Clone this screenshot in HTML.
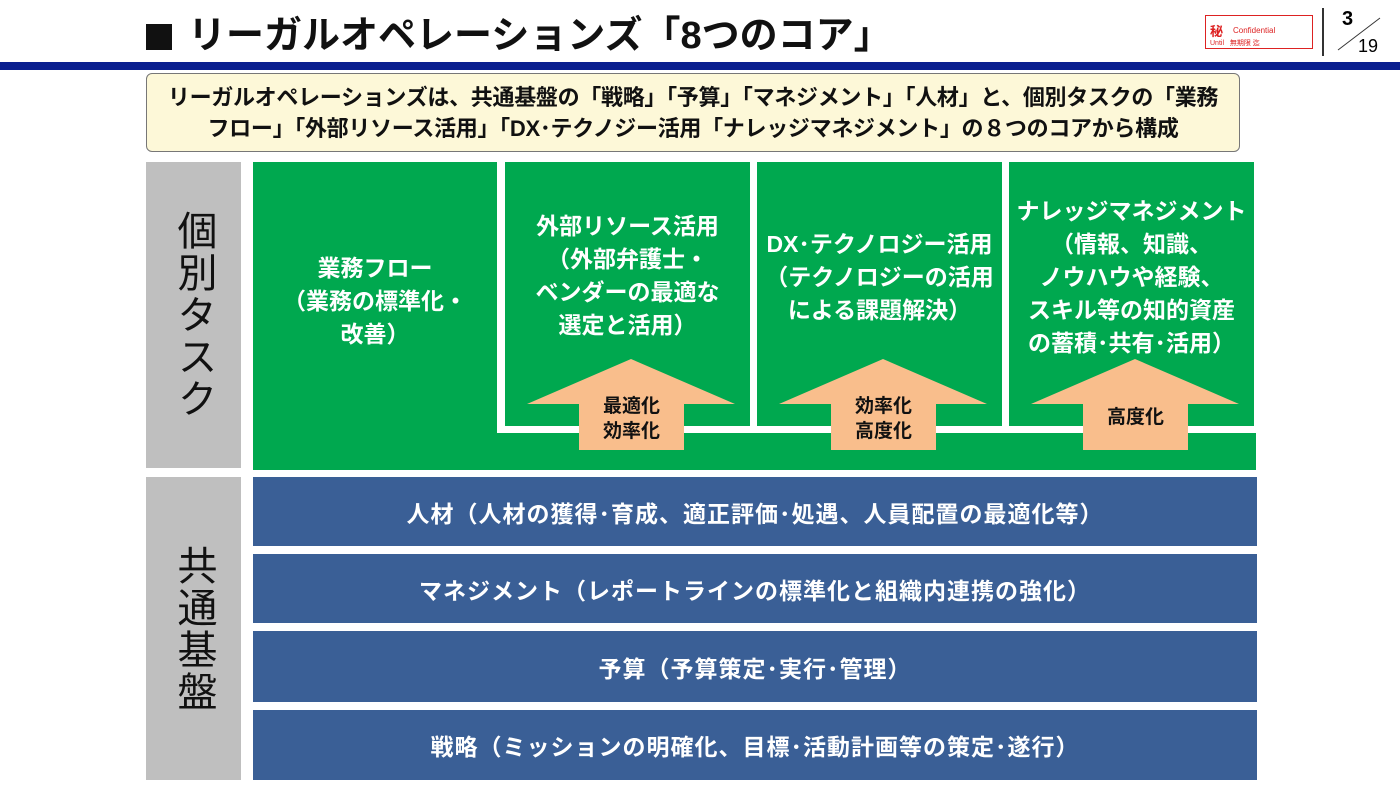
<!DOCTYPE html>
<html><head><meta charset="utf-8"><style>
*{margin:0;padding:0;box-sizing:border-box}
body{width:1400px;height:788px;background:#fff;position:relative;overflow:hidden;font-family:"Liberation Sans","Noto Sans CJK JP",sans-serif}
.a{position:absolute}
.g{background:#00a84f}
.w{color:#fff;font-weight:bold;text-align:center;font-size:23px;line-height:33px;white-space:nowrap}
.side{background:#bfbfbf;display:flex;align-items:center;justify-content:center;writing-mode:vertical-rl;font-size:40px;color:#111;letter-spacing:2px}
.row{background:#3a5f96;color:#fff;font-weight:bold;font-size:23px;letter-spacing:1px;display:flex;align-items:center;justify-content:center;left:253px;width:1004px}
.lbl{font-weight:bold;font-size:19px;line-height:25px;color:#111;text-align:center}
</style></head><body>
<div class="a" style="left:146px;top:24px;width:26px;height:26px;background:#111"></div>
<div class="a" style="left:188px;top:8px;font-size:38px;font-weight:bold;color:#111;line-height:56px;white-space:nowrap">リーガルオペレーションズ「8つのコア」</div>
<div class="a" style="left:1205px;top:15px;width:108px;height:34px;border:1px solid #d22"></div>
<div class="a" style="left:1210px;top:21px;color:#d22;font-size:13px;font-weight:bold">秘</div>
<div class="a" style="left:1233px;top:26px;color:#d22;font-size:8px">Confidential</div>
<div class="a" style="left:1210px;top:38px;color:#d22;font-size:7px">Until &nbsp;&nbsp;無期限 迄</div>
<div class="a" style="left:1322px;top:8px;width:2px;height:48px;background:#333"></div>
<div class="a" style="left:1342px;top:8px;font-size:20px;font-weight:bold">3</div>
<div class="a" style="left:1358px;top:36px;font-size:18px">19</div>
<svg class="a" style="left:1330px;top:14px" width="70" height="40"><line x1="8" y1="36" x2="50" y2="4" stroke="#333" stroke-width="1"/></svg>
<div class="a" style="left:0;top:62px;width:1400px;height:8px;background:#0a1f8f"></div>
<div class="a" style="left:146px;top:73px;width:1094px;height:79px;background:#fdf8d8;border:1px solid #777;border-radius:6px;font-weight:bold;font-size:22px;letter-spacing:-0.3px;line-height:31px;text-align:center;padding-top:8px;color:#111">リーガルオペレーションズは、共通基盤の「戦略」「予算」「マネジメント」「人材」と、個別タスクの「業務<br>フロー」「外部リソース活用」「DX･テクノジー活用「ナレッジマネジメント」の８つのコアから構成</div>

<div class="a side" style="left:146px;top:162px;width:95px;height:306px">個別タスク</div>
<div class="a side" style="left:146px;top:477px;width:95px;height:303px">共通基盤</div>

<div class="a g" style="left:253px;top:162px;width:1003px;height:308px"></div>
<div class="a" style="left:497px;top:162px;width:8px;height:271px;background:#fff"></div>
<div class="a" style="left:750px;top:162px;width:7px;height:264px;background:#fff"></div>
<div class="a" style="left:1002px;top:162px;width:7px;height:264px;background:#fff"></div>
<div class="a" style="left:1254px;top:162px;width:2px;height:264px;background:#fff"></div>
<div class="a" style="left:497px;top:426px;width:759px;height:7px;background:#fff"></div>

<div class="a w" style="left:253px;top:252px;width:244px">業務フロー<br>（業務の標準化・<br>改善）</div>
<div class="a w" style="left:505px;top:210px;width:245px">外部リソース活用<br>（外部弁護士・<br>ベンダーの最適な<br>選定と活用）</div>
<div class="a w" style="left:757px;top:228px;width:245px">DX･テクノロジー活用<br>（テクノロジーの活用<br>による課題解決）</div>
<div class="a w" style="left:1009px;top:195px;width:245px">ナレッジマネジメント<br>（情報、知識、<br>ノウハウや経験、<br>スキル等の知的資産<br>の蓄積･共有･活用）</div>

<svg class="a" style="left:0;top:0" width="1400" height="788">
<polygon fill="#f9be8c" points="527,404 631,359 735,404 684,404 684,450 579,450 579,404"/>
<polygon fill="#f9be8c" points="779,404 883,359 987,404 936,404 936,450 831,450 831,404"/>
<polygon fill="#f9be8c" points="1031,404 1135,359 1239,404 1188,404 1188,450 1083,450 1083,404"/>
</svg>
<div class="a lbl" style="left:579px;top:394px;width:105px">最適化<br>効率化</div>
<div class="a lbl" style="left:831px;top:394px;width:105px">効率化<br>高度化</div>
<div class="a lbl" style="left:1083px;top:405px;width:105px">高度化</div>

<div class="a row" style="top:477px;height:69px">人材（人材の獲得･育成、適正評価･処遇、人員配置の最適化等）</div>
<div class="a row" style="top:554px;height:69px">マネジメント（レポートラインの標準化と組織内連携の強化）</div>
<div class="a row" style="top:631px;height:71px">予算（予算策定･実行･管理）</div>
<div class="a row" style="top:710px;height:70px">戦略（ミッションの明確化、目標･活動計画等の策定･遂行）</div>
</body></html>
